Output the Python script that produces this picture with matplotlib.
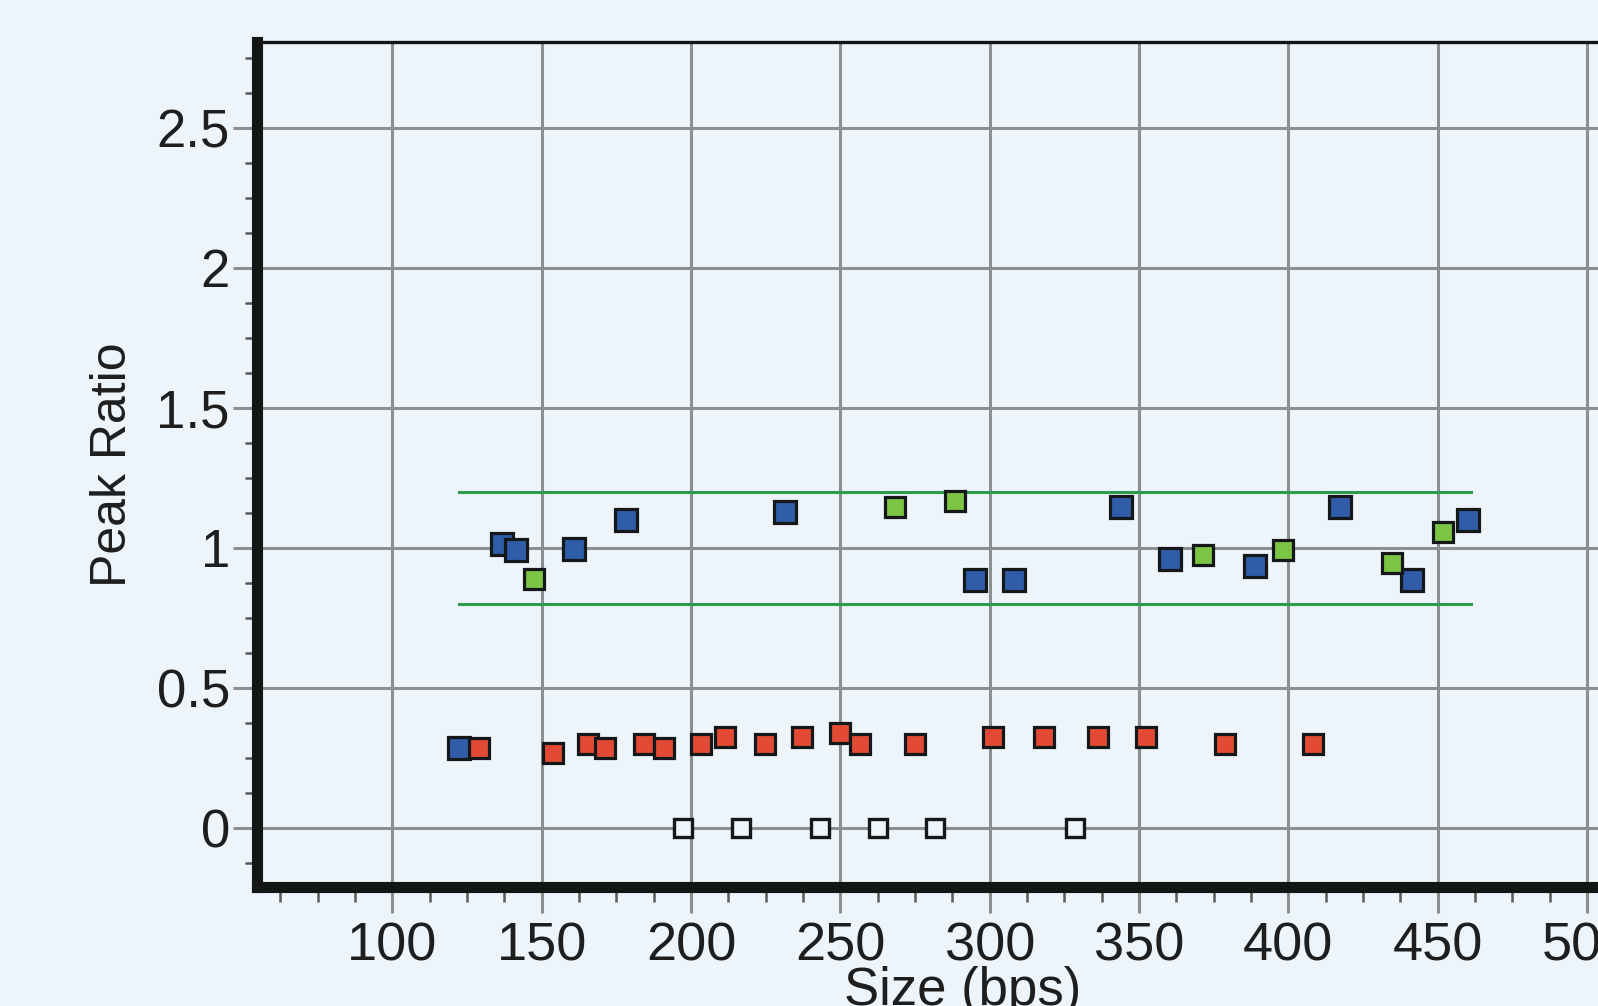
import matplotlib.pyplot as plt
from matplotlib.ticker import MultipleLocator, FixedLocator

# peak data
blue_x = [122.2, 136.7, 141.4, 160.8, 178.1, 231.4, 295.2, 308.2, 344.0, 360.4, 389.0, 417.4, 441.3, 460.0]
blue_y = [0.284, 1.014, 0.993, 0.994, 1.098, 1.126, 0.886, 0.886, 1.144, 0.959, 0.933, 1.144, 0.886, 1.10]

green_x = [147.4, 268.3, 288.4, 371.3, 398.3, 434.8, 451.9]
green_y = [0.887, 1.144, 1.166, 0.973, 0.991, 0.944, 1.057]

red_x = [129.0, 153.9, 165.5, 171.3, 184.3, 191.1, 203.4, 211.3, 224.6, 237.2, 249.8, 256.7,
         275.1, 301.0, 318.1, 336.2, 352.2, 378.8, 408.2]
red_y = [0.284, 0.266, 0.299, 0.284, 0.299, 0.284, 0.299, 0.324, 0.299, 0.324, 0.339, 0.299,
         0.299, 0.324, 0.324, 0.324, 0.324, 0.299, 0.299]

empty_x = [197.2, 216.7, 243.3, 262.6, 281.8, 328.5]
empty_y = [0, 0, 0, 0, 0, 0]

band_x = [122.2, 461.0]
band_hi = 1.2
band_lo = 0.8

yticks = [0, 0.5, 1, 1.5, 2, 2.5]
ytick_labels = ["0", "0.5", "1", "1.5", "2", "2.5"]
xticks = [100, 150, 200, 250, 300, 350, 400, 450, 500]

bg = "#EDF5FB"
grid_col = "#8A8F90"
txt = "#1E1E1E"

fig = plt.figure(figsize=(15.98, 10.06), dpi=100, facecolor=bg)
ax = fig.add_axes([0.1608, 0.1183, 0.851, 0.84])
ax.set_facecolor(bg)

ax.set_xlim(54.65, 510)
ax.set_ylim(-0.212, 2.807)

ax.xaxis.set_major_locator(FixedLocator(xticks))
ax.xaxis.set_minor_locator(MultipleLocator(12.5))
ax.yaxis.set_major_locator(FixedLocator(yticks))
ax.yaxis.set_minor_locator(MultipleLocator(0.125))
ax.set_yticklabels(ytick_labels)

ax.grid(True, which="major", color=grid_col, linewidth=2.2, zorder=0)
ax.set_axisbelow(True)

ax.tick_params(axis="x", which="major", length=19, width=2.2, color=grid_col, pad=6,
               labelsize=39, labelcolor=txt)
ax.tick_params(axis="y", which="major", length=17.5, width=2.2, color=grid_col, pad=2,
               labelsize=38, labelcolor=txt)
ax.tick_params(axis="x", which="minor", length=11, width=1.8, color="#555a5a")
ax.tick_params(axis="y", which="minor", length=9, width=1.8, color="#555a5a")
for lab in ax.get_xticklabels() + ax.get_yticklabels():
    lab.set_family(["Liberation Sans", "DejaVu Sans"])

for side in ["left", "bottom"]:
    ax.spines[side].set_linewidth(8)
    ax.spines[side].set_color("#141616")
    ax.spines[side].set_capstyle("projecting")
ax.spines["top"].set_linewidth(2.4)
ax.spines["top"].set_color("#141616")
ax.spines["right"].set_visible(False)

# tolerance band
ax.plot(band_x, [band_hi, band_hi], color="#2E9A4E", linewidth=2.2, zorder=2)
ax.plot(band_x, [band_lo, band_lo], color="#2E9A4E", linewidth=2.2, zorder=2)

ax.plot(blue_x, blue_y, "s", markersize=15.5, markerfacecolor="#2F5DA8",
        markeredgecolor="#151818", markeredgewidth=2.3, zorder=3)
ax.plot(green_x, green_y, "s", markersize=15, markerfacecolor="#7CC443",
        markeredgecolor="#151818", markeredgewidth=2.3, zorder=3)
ax.plot(red_x, red_y, "s", markersize=14.5, markerfacecolor="#E34A35",
        markeredgecolor="#151818", markeredgewidth=2.3, zorder=4)
ax.plot(empty_x, empty_y, "s", markersize=13, markerfacecolor=bg,
        markeredgecolor="#151818", markeredgewidth=2.4, zorder=3)

ax.set_xlabel("Size (bps)", fontsize=38, color=txt, family=["Liberation Sans", "DejaVu Sans"])
ax.set_ylabel("Peak Ratio", fontsize=36, color=txt, family=["Liberation Sans", "DejaVu Sans"])
ax.xaxis.set_label_coords(0.519, -0.0935)
ax.yaxis.set_label_coords(-0.0893, 0.5)

fig.savefig("out.png", dpi=100, facecolor=bg)
